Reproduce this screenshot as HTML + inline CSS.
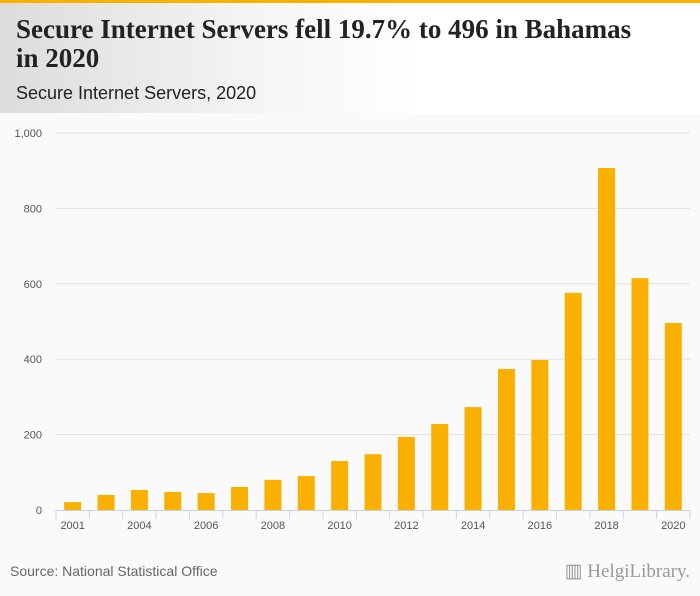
<!DOCTYPE html>
<html><head><meta charset="utf-8"><style>
body{margin:0;width:700px;height:596px;background:#fafafa;font-family:"Liberation Sans",sans-serif;overflow:hidden;position:relative}
#hdr{position:absolute;left:0;top:0;width:700px;height:113px;background:linear-gradient(90deg,#dcdcdc 0%,#f4f4f4 35%,#fff 60%,#fff 100%);border-top:3px solid #f9b000;box-sizing:border-box}
#title{position:absolute;left:16px;top:12px;font-family:"Liberation Serif",serif;font-weight:bold;font-size:27px;line-height:29px;color:#222;width:680px}
#sub{position:absolute;left:16px;top:80px;font-size:18px;color:#222}
#src{position:absolute;left:10px;top:563px;font-size:14px;color:#666}
#logo{position:absolute;right:10px;top:560px;font-size:19px;color:#999;font-family:"Liberation Serif",serif}
</style></head><body>
<div id="hdr">
<div id="title">Secure Internet Servers fell 19.7% to 496 in Bahamas<br>in 2020</div>
<div id="sub">Secure Internet Servers, 2020</div>
</div>
<svg id="chart" width="700" height="596" style="position:absolute;left:0;top:0"></svg>
<div id="src">Source: National Statistical Office</div>
<div id="logo">▥ HelgiLibrary.</div>
<script>
const years=["2001","2003","2004","2005","2006","2007","2008","2009","2010","2011","2012","2013","2014","2015","2016","2017","2018","2019","2020"];
const values=[21,40,53,48,45,61,80,90,130,148,194,228,273,374,398,576,907,615,496];
const labeledYears=["2001","2004","2006","2008","2010","2012","2014","2016","2018","2020"];
const yTicks=[0,200,400,600,800,1000];
const NS="http://www.w3.org/2000/svg",svg=document.getElementById('chart');
const x0=56,x1=690,y0=510,y1=133,band=(x1-x0)/years.length;
const y=v=>y0-(v/1000)*(y0-y1);
const xc=i=>x0+band*(i+0.5);
function mk(t,a){const e=document.createElementNS(NS,t);for(const k in a)e.setAttribute(k,a[k]);svg.appendChild(e);return e;}
yTicks.forEach(t=>{
 if(t>0){const g=mk('line',{x1:x0,x2:x1,y1:y(t),y2:y(t),stroke:'#e3e3e3','stroke-width':1});
 
 }
 const l=mk('text',{x:42,y:y(t)+4,'text-anchor':'end','font-size':11,fill:'#555','font-family':'Liberation Sans, sans-serif'});
 l.textContent=t.toLocaleString('en-US');
 
 
});
values.forEach((v,i)=>{
 const b=mk('rect',{x:xc(i)-8.5,y:y(v),width:17,height:y0-y(v),fill:'#f9b000'});
 
 
});
const ax=mk('line',{x1:x0,x2:x1,y1:y0+0.5,y2:y0+0.5,stroke:'#c8d4e6'});


for(let i=0;i<=years.length;i++){
 const t=mk('line',{x1:x0+band*i,x2:x0+band*i,y1:y0,y2:y0+9,stroke:'#c8d4e6'});
 
 
}
years.forEach((yr,i)=>{
 if(!labeledYears.includes(yr))return;
 const l=mk('text',{x:xc(i),y:y0+19,'text-anchor':'middle','font-size':11,fill:'#555','font-family':'Liberation Sans, sans-serif'});
 l.textContent=yr;
 
 
});
</script>
</body></html>
